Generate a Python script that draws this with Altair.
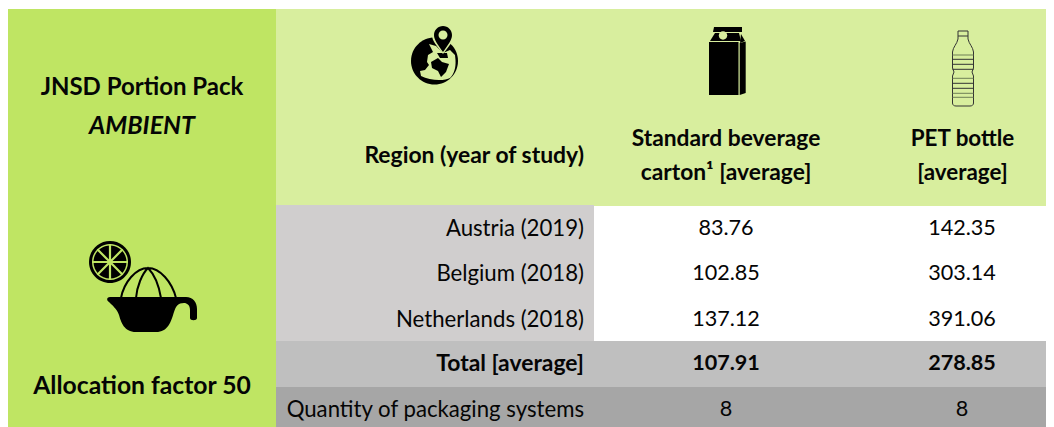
import re
import altair as alt
import pandas as pd

# ---- table content ----
regions = ["Austria (2019)", "Belgium (2018)", "Netherlands (2018)"]
carton_values = ["83.76", "102.85", "137.12"]
pet_values = ["142.35", "303.14", "391.06"]
total_label = "Total [average]"
carton_total = "107.91"
pet_total = "278.85"
quantity_label = "Quantity of packaging systems"
carton_quantity = "8"
pet_quantity = "8"
header_region = "Region (year of study)"
header_carton = ["Standard beverage", "carton\u00b9 [average]"]
header_pet = ["PET bottle", "[average]"]
title_lines = ["JNSD Portion Pack", "AMBIENT"]
allocation = "Allocation factor 50"

FONT = "Lato"
INK = "#050505"
LIME = "#bfe563"
PALE = "#d8ee9e"
GREY1 = "#d0cece"
GREY2 = "#bfbfbf"
GREY3 = "#a6a6a6"

X = alt.X("x:Q", axis=None, scale=alt.Scale(domain=[8, 1046], nice=False, zero=False))
Y = alt.Y("y:Q", axis=None, scale=alt.Scale(domain=[427, 8], nice=False, zero=False))


def rect(x0, x1, y0, y1, color):
    df = pd.DataFrame({"x": [x0], "x2": [x1], "y": [y0], "y2": [y1]})
    return alt.Chart(df).mark_rect(color=color, strokeWidth=0, opacity=1).encode(
        x=X, x2="x2:Q", y=Y, y2="y2:Q")


def texts(rows, align, size, weight="normal", style="normal"):
    df = pd.DataFrame(rows, columns=["t", "x", "y"])
    return alt.Chart(df).mark_text(
        font=FONT, fontSize=size, align=align, baseline="middle", color=INK,
        fontWeight=weight, fontStyle=style).encode(x=X, y=Y, text="t:N")


def circle(cx, cy, r):
    k = 0.5523 * r
    return (f"M{cx-r},{cy} C{cx-r},{cy-k} {cx-k},{cy-r} {cx},{cy-r} "
            f"C{cx+k},{cy-r} {cx+r},{cy-k} {cx+r},{cy} "
            f"C{cx+r},{cy+k} {cx+k},{cy+r} {cx},{cy+r} "
            f"C{cx-k},{cy+r} {cx-r},{cy+k} {cx-r},{cy} Z")


def icon(path, ax, ay, fill=None, stroke=None, sw=1.0, op=1.0):
    local = re.sub(r"(-?[\d.]+),(-?[\d.]+)",
                   lambda m: f"{float(m.group(1))-ax:.2f},{float(m.group(2))-ay:.2f}", path)
    df = pd.DataFrame({"x": [ax], "y": [ay]})
    kw = dict(shape=local, size=4, opacity=op)
    if fill:
        kw.update(filled=True, fill=fill, strokeWidth=0)
    else:
        kw.update(filled=False, stroke=stroke, strokeWidth=sw)
    return alt.Chart(df).mark_point(**kw).encode(x=X, y=Y)


layers = [
    rect(8, 276, 9, 427, LIME),
    rect(276, 1046, 9, 206, PALE),
    rect(276, 594, 205, 341, GREY1),
    rect(276, 1046, 341, 387, GREY2),
    rect(276, 1046, 387, 427, GREY3),
]

row_y = [228.5, 273.5, 319.5]
layers += [
    texts([(r, 584, y) for r, y in zip(regions, row_y)]
          + [(quantity_label, 584, 409.5)], "right", 22.2),
    texts([(v, 726, y) for v, y in zip(carton_values, row_y)]
          + [(carton_quantity, 726, 409.5)]
          + [(v, 962, y) for v, y in zip(pet_values, row_y)]
          + [(pet_quantity, 962, 409.5)], "center", 21.6),
    texts([(total_label, 584, 364), (header_region, 584, 156)], "right", 22.9, "bold"),
    texts([(carton_total, 726, 364), (pet_total, 962, 364)], "center", 21.6, "bold"),
    texts([(header_carton[0], 726, 139), (header_carton[1], 726, 173)], "center", 22.8, "bold"),
    texts([(header_pet[0], 962.5, 139), (header_pet[1], 962.5, 173)], "center", 22.4, "bold"),
    texts([(title_lines[0], 142, 88)], "center", 24, "bold"),
    texts([(allocation, 142, 387)], "center", 24.7, "bold"),
    texts([(title_lines[1], 142, 126)], "center", 25, "bold", "italic"),
]

# ---- lemon and juicer ----
LX, LY = 110, 262
layers += [
    icon(circle(LX, LY, 21), LX, LY, fill="#000000"),
    icon(circle(LX, LY, 18), LX, LY, fill=LIME),
    icon(circle(LX, LY, 16.5), LX, LY, fill="#000000"),
    icon("M92,262 L128,262 M110,244 L110,280 M97.3,249.3 L122.7,274.7 M122.7,249.3 L97.3,274.7",
         LX, LY, stroke=LIME, sw=2.2),
    icon("M121,298 C124,282 136,268 148,268 C160,268 172,282 176,298 "
         "M136,298 C137,286 142,274 148,268 C154,274 159,286 161,298",
         148, 283, stroke="#000000", sw=2),
    icon("M110,297 L186,297 C193,297 197,302 197,309 L197,318 C197,321 190,321 190,318 "
         "L190,310 C190,305 187,303 184,303 C178,303 176,306 174,312 C171,322 168,332 156,332 "
         "L136,332 C124,332 121,322 119,315 C117,309 112,305 109,302 C106,300 107,297 110,297 Z",
         150, 314, fill="#000000"),
]

# ---- globe with map pin ----
GX, GY = 434.5, 61
layers += [
    icon(circle(GX, GY, 23.5), GX, GY, fill="#000000"),
    icon("M429,44 L433,52 L428,55 L427,62 L429,65 L425,70 L420,71 L421,76 C430,81 445,81 450,78 "
         "C454,74 456,68 455.5,60 L455,55 L450,50 L443,53 L436,46 Z", GX, GY, fill=PALE),
    icon("M431,62 L438,58 L442,62 L449,64 L446,72 L441,77 L438,71 L432,68 Z",
         GX, GY, fill="#000000"),
    icon("M437,53 L447,53 L448,58 L440,58 Z", GX, GY, fill="#000000"),
    icon("M443,54 C437,46 432,41 432,35 C432,29 437,24 443,24 C449,24 454,29 454,35 "
         "C454,41 449,46 443,54 Z", 443, 38, fill=PALE),
    icon("M443,52 C438,45 434,40 434,35 C434,30 438,26 443,26 C448,26 452,30 452,35 "
         "C452,40 448,45 443,52 Z", 443, 38, fill="#000000"),
    icon(circle(443, 35, 4.5), 443, 38, fill=PALE),
]

# ---- carton ----
CX, CY = 727, 60
layers += [
    icon("M714,27 L742,27 L742,32 L713,32 Z", CX, CY, fill="#000000"),
    icon("M710,41 L715,33 L739,33 L741,41 Z", CX, CY, fill="#000000"),
    icon("M741,34 L745,41 L740,43 Z", CX, CY, fill="#000000"),
    icon("M709,42 L738.5,42 L738.5,95 L709,95 Z", CX, CY, fill="#000000"),
    icon("M739.7,43 L745.7,41.5 L745.7,93 L739.7,95 Z", CX, CY, fill="#000000"),
    icon(circle(723, 35.5, 4.2), CX, CY, fill=PALE),
]

# ---- bottle ----
BX, BY = 963, 68
layers += [
    icon("M958,31 L968,31 L968,36 L958,36 Z", BX, BY, stroke="#333333", sw=1),
    icon("M958,36 L958,39 C957,44 953,47 952.5,52 L952.5,68 L954,72 L952.5,76 L952.5,103 "
         "C952.5,105 954,106 956,106 L970,106 C972,106 973.5,105 973.5,103 L973.5,76 L972,72 "
         "L973.5,68 L973.5,52 C973,47 969,44 968,39 L968,36",
         BX, BY, stroke="#333333", sw=1),
    icon("M952.5,59.3 L973.5,59.3 M952.5,64.3 L973.5,64.3 M952.5,69.3 L973.5,69.3 "
         "M952.5,83.3 L973.5,83.3 M952.5,88.3 L973.5,88.3",
         BX, BY, stroke="#333333", sw=1),
    icon("M952.5,55 L973.5,55 M952.5,78.3 L973.5,78.3 M952.5,93.3 L973.5,93.3 M952.5,97.3 L973.5,97.3",
         BX, BY, stroke="#6f7f55", sw=1),
]

chart = alt.layer(*layers).properties(
    width=1038, height=419, padding=0, autosize=alt.AutoSizeParams(type="none"),
    background="white",
).configure_view(stroke=None)

chart.save("out.html", embed_options={"renderer": "svg", "actions": False})
